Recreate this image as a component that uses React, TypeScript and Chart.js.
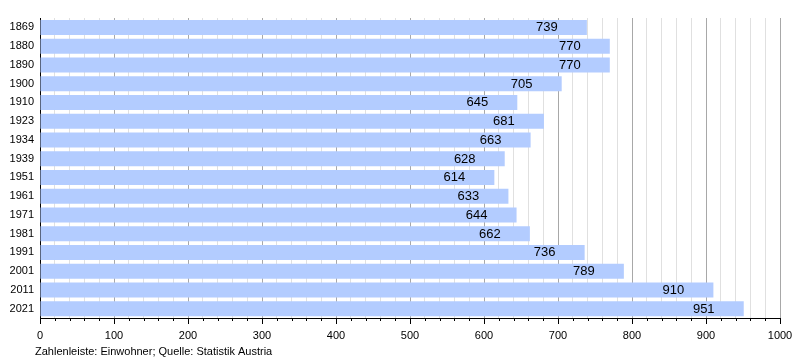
import React, { useEffect, useRef } from "react";
import { Chart, registerables } from "chart.js";

Chart.register(...registerables);

const years = ["1869", "1880", "1890", "1900", "1910", "1923", "1934", "1939", "1951", "1961", "1971", "1981", "1991", "2001", "2011", "2021"];
const population = [739, 770, 770, 705, 645, 681, 663, 628, 614, 633, 644, 662, 736, 789, 910, 951];
const caption = "Zahlenleiste: Einwohner; Quelle: Statistik Austria";

const FONT = "'Liberation Sans', Arial, sans-serif";

const overlay = {
  id: "overlay",
  afterDatasetsDraw(chart: any) {
    const ctx = chart.ctx;
    const xs = chart.scales.x;
    const area = chart.chartArea;
    const meta = chart.getDatasetMeta(0);
    ctx.save();
    // value labels
    ctx.font = `13px ${FONT}`;
    ctx.fillStyle = "#000";
    ctx.textAlign = "center";
    ctx.textBaseline = "middle";
    meta.data.forEach((bar: any, i: number) => {
      ctx.fillText(String(population[i]), bar.x - 40, bar.y + 0.5);
    });
    // tick marks
    ctx.strokeStyle = "#000";
    ctx.lineWidth = 1;
    for (let v = 0; v <= 1000; v += 20) {
      const px = Math.round(xs.getPixelForValue(v)) + 0.5;
      const len = v % 100 === 0 ? 6 : 3;
      ctx.beginPath();
      ctx.moveTo(px, area.bottom);
      ctx.lineTo(px, area.bottom + len);
      ctx.stroke();
    }
    // caption
    ctx.font = `11px ${FONT}`;
    ctx.textAlign = "left";
    ctx.textBaseline = "alphabetic";
    ctx.fillText(caption, 35, 355);
    ctx.restore();
  },
};

export default function App() {
  const ref = useRef<HTMLCanvasElement>(null);
  useEffect(() => {
    if (!ref.current) return;
    const chart = new Chart(ref.current, {
      type: "bar",
      data: {
        labels: years,
        datasets: [
          {
            data: population,
            backgroundColor: "#b3ccff",
            borderWidth: 0,
            barPercentage: 0.8,
            categoryPercentage: 1,
          },
        ],
      },
      options: {
        indexAxis: "y",
        responsive: false,
        animation: false,
        layout: { padding: { top: 18, right: 20, left: 0, bottom: 0 } },
        plugins: { legend: { display: false }, tooltip: { enabled: false } },
        scales: {
          x: {
            type: "linear",
            min: 0,
            max: 1000,
            afterFit(scale: any) {
              scale.height = 42;
              scale.paddingLeft = 0;
              scale.paddingRight = 0;
            },
            border: { display: true, color: "#000", width: 1 },
            grid: {
              drawTicks: false,
              color: (c: any) => (c.tick && c.tick.value % 100 === 0 ? "#a8a8a8" : "#e0e0e0"),
              lineWidth: 1,
            },
            ticks: {
              stepSize: 20,
              autoSkip: false,
              maxRotation: 0,
              padding: 11,
              color: "#000",
              font: { family: FONT, size: 11 },
              callback: (v: any) => (Number(v) % 100 === 0 ? String(v) : ""),
            },
          },
          y: {
            afterFit(scale: any) {
              scale.width = 40;
            },
            border: { display: true, color: "#000", width: 1 },
            grid: { display: false, drawTicks: false },
            ticks: {
              padding: 6,
              color: "#000",
              font: { family: FONT, size: 11 },
            },
          },
        },
      },
      plugins: [overlay],
    });
    return () => chart.destroy();
  }, []);
  return (
    <canvas
      ref={ref}
      width={800}
      height={360}
      style={{ position: "absolute", left: 0, top: 0, width: 800, height: 360 }}
    />
  );
}
